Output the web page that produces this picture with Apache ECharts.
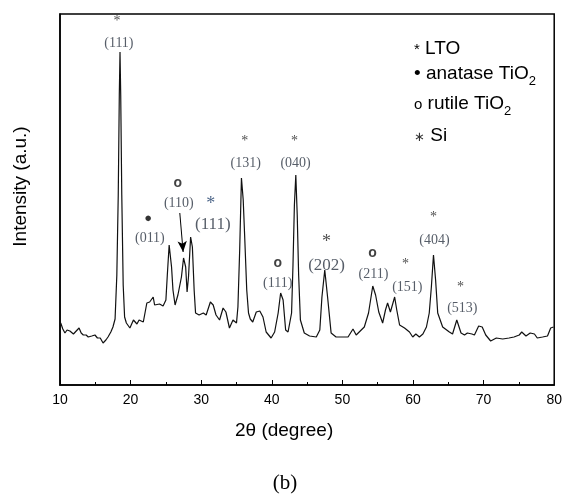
<!DOCTYPE html>
<html>
<head>
<meta charset="utf-8">
<script src="https://cdn.jsdelivr.net/npm/echarts@6/dist/echarts.min.js"></script>
<style>html,body{margin:0;padding:0;background:#fff}#c{width:565px;height:495px}</style>
</head>
<body>
<div id="c"></div>
<script>
// XRD pattern: 2θ (degree) and intensity (arbitrary units)
const twoTheta = [10.1,10.4,10.7,11.0,11.4,11.9,12.3,12.7,13.0,13.3,13.7,14.0,14.5,14.95,15.3,15.7,16.1,16.5,16.8,17.2,17.5,17.8,18.05,18.25,18.4,18.5,18.6,18.75,18.95,19.15,19.4,19.9,20.4,20.9,21.2,21.8,22.3,22.7,23.2,23.4,24.1,24.6,25.0,25.2,25.46,25.8,26.0,26.3,26.7,27.2,27.5,27.8,28.0,28.2,28.5,28.75,29.0,29.2,29.7,30.3,30.7,31.3,31.7,32.1,32.6,33.1,33.5,34.0,34.5,35.0,35.2,35.45,35.7,35.95,36.15,36.45,36.7,36.95,37.3,37.8,38.3,38.75,39.2,39.9,40.4,40.9,41.25,41.6,41.96,42.3,42.8,43.0,43.2,43.4,43.6,43.8,44.05,44.6,45.35,46.3,46.8,47.1,47.5,47.9,48.4,49.1,50.5,50.8,51.5,51.95,52.2,53.1,53.7,54.3,54.7,55.15,55.7,56.1,56.4,56.8,57.4,57.7,58.1,58.8,59.5,59.96,60.4,60.9,61.4,61.9,62.3,62.6,62.9,63.2,63.5,64.2,65.15,65.6,66.2,66.8,67.3,67.7,68.35,68.7,69.3,69.8,70.3,71.0,71.8,72.7,73.6,74.3,75.05,75.4,76.0,76.6,77.2,77.6,78.35,79.05,79.5,79.9];
const intensity = [62,56,52,55,54,51,54,57,52,50,50,48,49,50,47,47,42,45,48,53,58,66,110,190,290,333,290,190,100,68,62,57,65,61,65,63,82,83,88,80,81,79,85,110,140,118,95,80,90,108,127,118,93,108,148,138,95,72,70,72,70,83,80,70,65,77,73,57,65,62,78,135,207,185,150,95,72,66,63,73,74,68,53,47,53,72,92,85,55,53,72,120,180,210,170,110,65,52,49,48,55,88,115,88,52,48,48,48,56,50,48,58,72,99,90,73,62,75,82,73,88,75,60,57,53,48,51,48,51,58,72,98,130,105,72,58,53,51,65,52,50,52,51,50,59,58,50,44,47,46,47,48,50,53,49,52,51,47,48,49,57,58];

// LTO markers (symbol, 2θ, height)
const ltoSym = ['*','*','*','*','*','*'];
const ltoX   = [18.06,36.16,43.23,58.93,62.89,66.71];
const ltoY   = [367,247,247,124,171,101];
const ltoBigSym = ['*'];
const ltoBigX   = [47.76];
const ltoBigY   = [147];
// anatase marker
const anaSym = ['●'];
const anaX = [22.5];
const anaY = [167];
// rutile markers
const rutSym = ['o','o','o'];
const rutX = [26.69,40.83,54.26];
const rutY = [201,121,131];
// Si marker
const siSym = ['*'];
const siX = [31.35];
const siY = [186];

// Miller index labels
const hklText = ['(111)','(011)','(110)','(131)','(040)','(111)','(211)','(151)','(404)','(513)'];
const hklX    = [18.34,22.73,26.83,36.3,43.37,40.83,54.4,59.2,63.03,66.99];
const hklY    = [342,147,182,222,222,102,111,98,145,77];
// larger labels
const hklBigText = ['(111)','(202)'];
const hklBigX    = [31.64,47.76];
const hklBigY    = [160,119];

// arrow pointing to rutile (110)
const arrowFrom = [26.97,172];
const arrowTo   = [27.44,133];

const xTicks = [10,20,30,40,50,60,70,80];

const chart = echarts.init(document.getElementById('c'));
const lineData = twoTheta.map((x,i)=>[x,intensity[i]]);
const serif = '"Liberation Serif","Times New Roman",serif';
const sans = '"Liberation Sans",Arial,sans-serif';
const lblColor = '#2c3442';

function textSeries(xs, ys, texts, size, color, offY, family, weight){
  return {
    type:'scatter', symbolSize:0, silent:true, clip:false, z:5,
    data: xs.map((x,i)=>({value:[x,ys[i]], name:texts[i]})),
    label:{show:true, position:'inside', formatter:p=>p.name, fontFamily:family||serif, fontWeight:weight||'normal', fontSize:size, color:color, offset:[0,offY||0]},
    emphasis:{disabled:true}
  };
}

const legRich = {
  m:{fontSize:19, fontFamily:sans, verticalAlign:'top', fill:'#000'},
  s:{fontSize:15, fontFamily:sans, verticalAlign:'top', padding:[3,0,0,0], fill:'#000'},
  si:{fontSize:13, fontFamily:sans, verticalAlign:'top', padding:[5,0,0,0], fill:'#333'},
  b:{fontSize:19, fontFamily:sans, verticalAlign:'top', fill:'#000'},
  sub:{fontSize:13, fontFamily:sans, verticalAlign:'top', padding:[11,0,0,0], fill:'#000'}
};

chart.setOption({
  animation:false,
  grid:{left:60, top:14, right:10, bottom:110, show:true, borderColor:'#000', borderWidth:1.5, backgroundColor:'transparent'},
  xAxis:{
    type:'value', min:xTicks[0], max:xTicks[xTicks.length-1], interval:10,
    name:'2θ (degree)', nameLocation:'middle', nameGap:36,
    nameTextStyle:{fontFamily:sans, fontSize:19, color:'#000', padding:[0,46,0,0]},
    axisLine:{lineStyle:{color:'#000', width:1.5}},
    axisTick:{inside:true, length:5, lineStyle:{color:'#000', width:1}},
    minorTick:{show:true, splitNumber:2, length:3, lineStyle:{color:'#000', width:1}},
    axisLabel:{fontFamily:sans, fontSize:14, color:'#000', margin:8},
    splitLine:{show:false}
  },
  yAxis:{
    type:'value', min:0, max:371,
    name:'Intensity (a.u.)', nameLocation:'middle', nameGap:30,
    nameTextStyle:{fontFamily:sans, fontSize:19, color:'#000', padding:[0,0,0,26]},
    axisLine:{show:true, lineStyle:{color:'#000', width:1.5}},
    axisTick:{show:false}, axisLabel:{show:false}, splitLine:{show:false}
  },
  series:[
    {
      type:'line', data:lineData, showSymbol:false, smooth:false,
      lineStyle:{color:'#111', width:1.2}, silent:true,
      markLine:{
        silent:true, symbol:['none','arrow'], symbolSize:[7,11],
        lineStyle:{color:'#000', width:1, type:'solid'}, label:{show:false},
        data:[[{coord:arrowFrom},{coord:arrowTo}]]
      }
    },
    textSeries(ltoX, ltoY, ltoSym, 14, '#222', 3),
    textSeries(ltoBigX, ltoBigY, ltoBigSym, 18, '#222', 4),
    textSeries(anaX, anaY, anaSym, 13, '#000', 0, sans),
    textSeries(rutX, rutY, rutSym, 14, '#111', -1, sans, 'bold'),
    textSeries(siX, siY, siSym, 18, '#1f3f6a', 5),
    textSeries(hklX, hklY, hklText, 14, lblColor, 0),
    textSeries(hklBigX, hklBigY, hklBigText, 17, lblColor, 0)
  ],
  graphic:[
    {type:'text', left:414, top:39, style:{text:'{s|*}{m| LTO}', rich:legRich}},
    {type:'text', left:414, top:64, style:{text:'{b|•}{m| anatase TiO}{sub|2}', rich:legRich}},
    {type:'text', left:414, top:94, style:{text:'{s|o}{m| rutile TiO}{sub|2}', rich:legRich}},
    {type:'text', left:414, top:126, style:{text:'{si|∗}{m| Si}', rich:legRich}},
    {type:'text', x:285, y:483, style:{text:'(b)', font:'21px '+serif, fill:'#000', textAlign:'center', textVerticalAlign:'middle'}}
  ]
});
</script>
</body>
</html>
